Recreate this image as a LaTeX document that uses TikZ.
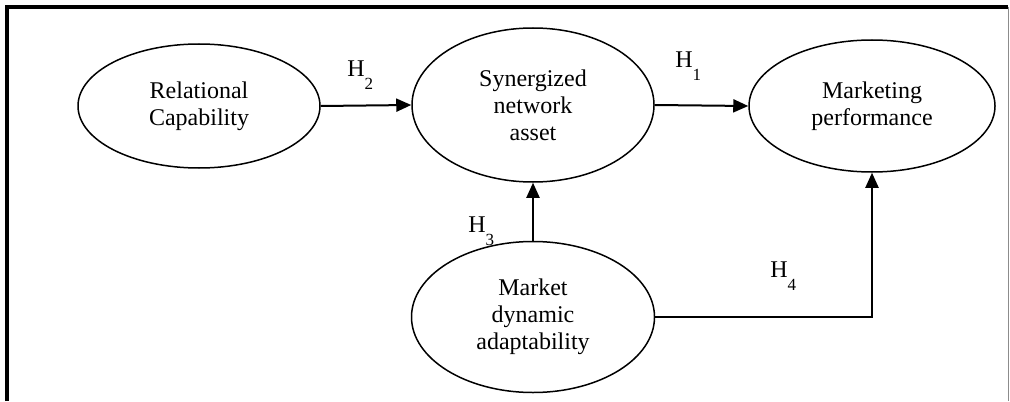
\documentclass[tikz,border=0pt]{standalone}
\usepackage{fontspec}
\setmainfont{Liberation Serif}
\usetikzlibrary{shapes.geometric, arrows.meta, positioning}

% hypothesis label: H with a low subscript
\newcommand{\hyplab}[1]{H\raisebox{-6.5pt}{\fontsize{8.5}{8.5}\selectfont #1}}

\tikzset{
	construct/.style={draw, line width=0.75pt, ellipse, align=center, inner sep=0pt,
		font=\fontsize{12}{13.6}\selectfont},
	path arrow/.style={line width=1pt, -{Triangle[length=7.5pt, width=6.5pt]}},
	hyp/.style={anchor=base west, inner sep=0pt, font=\fontsize{12}{13.6}\selectfont}
}

\begin{document}
\begin{tikzpicture}[x=0.5pt, y=-0.5pt]
	\useasboundingbox (0,0) rectangle (1010,401);
	
	% Frame
	\draw[line width=2pt] (7,401) -- (7,7) -- (1008,7);
	\draw[line width=0.5pt, black!45] (1008,7) -- (1008,401);
	
	% Constructs
	\node[construct, minimum width=121pt, minimum height=62pt] (rc) at (199,106) {Relational\\Capability};
	\node[construct, minimum width=121pt, minimum height=77pt] (sna) at (533,105) {Synergized\\network\\asset};
	\node[construct, minimum width=123pt, minimum height=66pt] (mp) at (872,106) {Marketing\\performance};
	\node[construct, minimum width=121.5pt, minimum height=75.5pt] (mda) at (533,317) {Market\\dynamic\\adaptability};
	
	% Paths
	\draw[path arrow] (rc.east) -- (sna.west);
	\draw[path arrow] (sna.east) -- (mp.west);
	\draw[path arrow] (mda.north) -- (sna.south);
	\draw[path arrow] (mda.east) -| (mp.south);
	
	% Hypotheses
	\node[hyp] (h2) at (347,76) {\hyplab{2}};
	\node[hyp] (h1) at (675,68) {\hyplab{1}};
	\node[hyp] (h3) at (468,232) {\hyplab{3}};
	\node[hyp] (h4) at (770,277) {\hyplab{4}};
\end{tikzpicture}
\end{document}
